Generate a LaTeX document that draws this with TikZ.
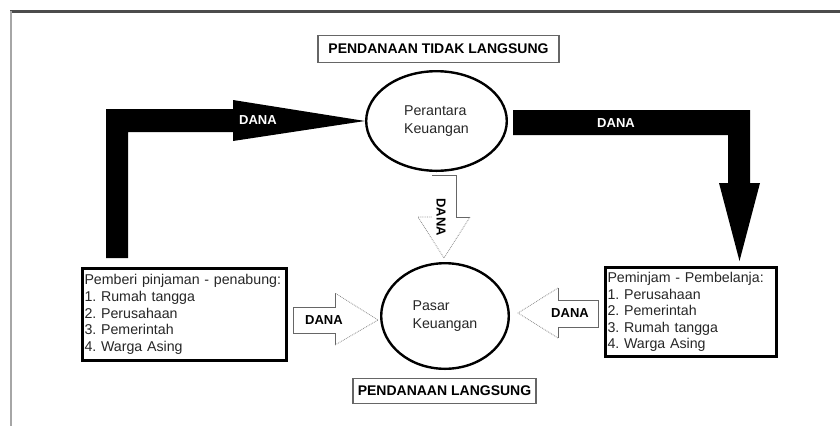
\documentclass[tikz,border=0pt]{standalone}
\usepackage{fontspec}
\setmainfont{Liberation Sans}
\usetikzlibrary{shapes.geometric}
\frenchspacing

\begin{document}
\begin{tikzpicture}[x=1pt,y=-1pt,
  judul/.style={draw=black!60,line width=1.2pt,inner sep=0pt,minimum height=27pt,
    font=\bfseries\fontsize{14}{16}\selectfont},
  lembaga/.style={draw,ellipse,line width=2.4pt,inner sep=0pt,align=left,
    text=black!85,font=\fontsize{14.2}{18}\selectfont},
  daftar/.style={draw,line width=3pt,inner xsep=2pt,inner ysep=0pt,align=left,
    text=black!85,font=\fontsize{14.2}{16.6}\selectfont},
  dana/.style={font=\bfseries\fontsize{13}{13}\selectfont},
  pipa/.style={draw=black!60,line width=0.8pt},
  ujung/.style={draw=black!45,line width=0.8pt,densely dotted}]

\useasboundingbox (0,0) rectangle (840,426);

% bingkai
\draw[black!70,line width=3pt] (10,11) -- (840,11);
\draw[black!35,line width=1.5pt] (11,11) -- (11,426);

\node[judul,minimum width=241pt] (tidaklangsung) at (438.5,49) {PENDANAAN TIDAK LANGSUNG};
\node[judul,minimum width=183pt,minimum height=25pt] (langsung) at (444.5,391) {PENDANAAN LANGSUNG};

\node[lembaga,minimum width=140.6pt,minimum height=99.6pt] (perantara) at (436.5,121) {Perantara\\Keuangan};
\node[lembaga,minimum width=127.6pt,minimum height=105.6pt] (pasar) at (445,316) {Pasar\\Keuangan};

\node[daftar,text width=200pt,minimum height=92pt] (pemberi) at (184.5,314.5)
  {Pemberi pinjaman - penabung:\\1. Rumah tangga\\2. Perusahaan\\3. Pemerintah\\4. Warga Asing};
\node[daftar,text width=167pt,minimum height=89pt] (peminjam) at (691,312)
  {Peminjam - Pembelanja:\\1. Perusahaan\\2. Pemerintah\\3. Rumah tangga\\4. Warga Asing};

% dana tidak langsung
\fill (106,258) -- (106,109) -- (233,109) -- (233,100) -- (perantara.west)
  -- (233,141) -- (233,132) -- (128,132) -- (128,258) -- cycle;
\node[dana,text=white] (danakiri) at (258,120) {DANA};
\fill (513,110) -- (750,110) -- (750,183) -- (760,183) -- (739.5,261)
  -- (719,183) -- (728,183) -- (728,135) -- (513,135) -- cycle;
\node[dana,text=white] (danakanan) at (616,123) {DANA};

\draw[pipa] (432,175) -- (456,175) -- (456,217) -- (470,217);
\draw[ujung] (470,217) -- (444,258) -- (418,217) -- (432,217);
\node[dana,rotate=-90] (danatengah) at (441,217) {DANA};

% dana langsung
\draw[pipa] (335,293) -- (335,307) -- (293,307) -- (293,333) -- (335,333) -- (335,345);
\draw[ujung] (335,345) -- (378,320) -- (335,293);
\node[dana] (danapemberi) at (324,320) {DANA};

\draw[pipa] (558,288) -- (558,300) -- (598,300) -- (598,327) -- (558,327) -- (558,338);
\draw[ujung] (558,338) -- (518,313) -- (558,288);
\node[dana] (danapeminjam) at (570,313) {DANA};
\end{tikzpicture}
\end{document}
